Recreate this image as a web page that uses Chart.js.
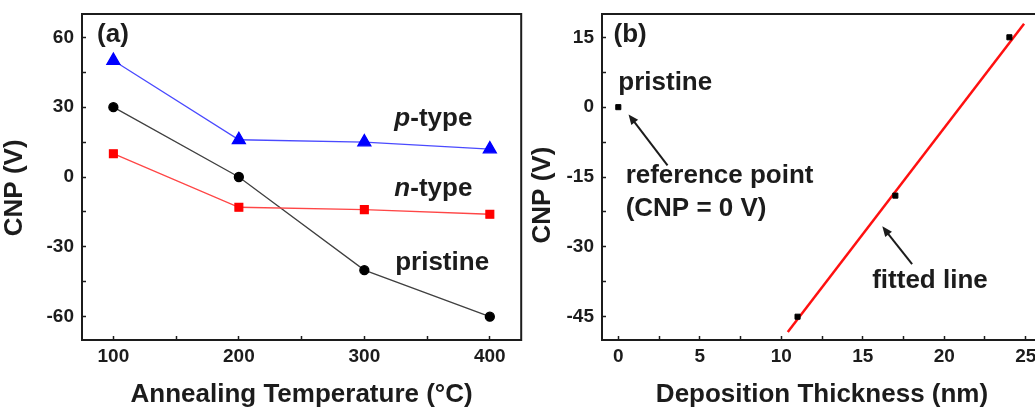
<!DOCTYPE html>
<html>
<head>
<meta charset="utf-8">
<script src="https://cdn.jsdelivr.net/npm/chart.js@4.4.1/dist/chart.umd.min.js"></script>
<style>
  html, body { margin: 0; padding: 0; background: #fff; overflow: hidden; }
  #wrap { position: relative; width: 1035px; height: 408px; overflow: hidden; }
  canvas { position: absolute; top: 0; }
  #chartA { left: 0; }
  #chartB { left: 530px; }
</style>
</head>
<body>
<div id="wrap">
  <canvas id="chartA" width="530" height="408"></canvas>
  <canvas id="chartB" width="530" height="408"></canvas>
</div>
<script>
// panel (a): CNP vs annealing temperature
const temps = [100, 200, 300, 400]
const pTypeCNP = [50, 16, 15, 12]
const nTypeCNP = [10, -13, -14, -16]
const pristineCNP = [30, 0, -40, -60]
const tempTicks = [100, 200, 300, 400]
const tempMinor = [150, 250, 350]
const cnpTicksA = [-60, -30, 0, 30, 60]
const cnpMinorA = [-45, -15, 15, 45]

// panel (b): CNP vs deposition thickness
const thickness = [0, 11, 17, 24]
const cnpB = [0, -45, -19, 15]
const fitThickness = [10.4, 24.9]
const fitCNP = [-48.3, 17.9]
const thickTicks = [0, 5, 10, 15, 20, 25]
const thickMinor = [2.5, 7.5, 12.5, 17.5, 22.5]
const cnpTicksB = [-45, -30, -15, 0, 15]
const cnpMinorB = [-37.5, -22.5, -7.5, 7.5]

const INK = '#1c1c1c'
Chart.defaults.font.family = '"Liberation Sans", Arial, sans-serif'
Chart.defaults.font.weight = 'bold'

const pts = (xs, ys) => xs.map((x, i) => ({ x, y: ys[i] }))

function axis({ position, min, max, major, minor, title, size, titlePad, tickPad }) {
  return {
    type: 'linear',
    position,
    min,
    max,
    afterBuildTicks: s => {
      s.ticks = [...major, ...minor].sort((a, b) => a - b).map(v => ({ value: v }))
    },
    afterFit: s => {
      if (s.isHorizontal()) s.height = size
      else s.width = size
      // labels never touch the plot edges here, so no extra room for them
      s.paddingTop = s.paddingBottom = s.paddingLeft = s.paddingRight = 0
    },
    grid: { drawOnChartArea: false, tickLength: -4, tickColor: INK, tickWidth: 1.5 },
    border: { color: INK, width: 2 },
    ticks: {
      autoSkip: false,
      maxRotation: 0,
      padding: tickPad,
      color: INK,
      font: { size: 19, weight: 'bold' },
      callback: v => major.includes(v) ? String(v) : ''
    },
    title: {
      display: true,
      text: title,
      color: INK,
      font: { size: 26, weight: 'bold', lineHeight: 1 },
      padding: titlePad
    }
  }
}

// frame around the plot box, text notes and arrows placed in data space
function notesPlugin(labels, arrows) {
  return {
    id: 'notes',
    afterDraw(chart) {
      const { ctx, chartArea: a, scales: { x, y } } = chart
      ctx.save()
      ctx.strokeStyle = INK
      ctx.lineWidth = 2
      ctx.strokeRect(a.left, a.top, a.right - a.left, a.bottom - a.top)

      ctx.fillStyle = INK
      ctx.textBaseline = 'middle'
      labels.forEach(n => {
        const parts = n.parts || [[n.text, 'bold']]
        const fonts = parts.map(p => `${p[1]} 26px "Liberation Sans", Arial, sans-serif`)
        let total = 0
        parts.forEach((p, i) => { ctx.font = fonts[i]; total += ctx.measureText(p[0]).width })
        let px = x.getPixelForValue(n.x)
        if (n.align === 'center') px -= total / 2
        const py = y.getPixelForValue(n.y)
        ctx.textAlign = 'left'
        parts.forEach((p, i) => {
          ctx.font = fonts[i]
          ctx.fillText(p[0], px, py)
          px += ctx.measureText(p[0]).width
        })
      })

      arrows.forEach(ar => {
        const x1 = x.getPixelForValue(ar[0]), y1 = y.getPixelForValue(ar[1])
        const x2 = x.getPixelForValue(ar[2]), y2 = y.getPixelForValue(ar[3])
        const ang = Math.atan2(y2 - y1, x2 - x1)
        const head = 11
        ctx.lineWidth = 2
        ctx.beginPath()
        ctx.moveTo(x1, y1)
        ctx.lineTo(x2 - Math.cos(ang) * head * 0.8, y2 - Math.sin(ang) * head * 0.8)
        ctx.stroke()
        ctx.beginPath()
        ctx.moveTo(x2, y2)
        ctx.lineTo(x2 - head * Math.cos(ang - 0.4), y2 - head * Math.sin(ang - 0.4))
        ctx.lineTo(x2 - head * Math.cos(ang + 0.4), y2 - head * Math.sin(ang + 0.4))
        ctx.closePath()
        ctx.fill()
      })
      ctx.restore()
    }
  }
}

const baseOptions = {
  responsive: false,
  animation: false,
  devicePixelRatio: 1,
  plugins: { legend: { display: false }, tooltip: { enabled: false } }
}

// panel (a)
new Chart(document.getElementById('chartA'), {
  type: 'line',
  data: {
    datasets: [
      {
        data: pts(temps, pTypeCNP),
        borderColor: '#4a4aff', borderWidth: 1.3,
        pointStyle: 'triangle', pointRadius: 7.5,
        pointBackgroundColor: '#0000ff', pointBorderColor: '#0000ff'
      },
      {
        data: pts(temps, nTypeCNP),
        borderColor: '#ff4646', borderWidth: 1.3,
        pointStyle: 'rect', pointRadius: 5.5,
        pointBackgroundColor: '#ff0000', pointBorderColor: '#ff0000'
      },
      {
        data: pts(temps, pristineCNP),
        borderColor: '#404040', borderWidth: 1.3,
        pointStyle: 'circle', pointRadius: 4.5,
        pointBackgroundColor: '#000', pointBorderColor: '#000'
      }
    ]
  },
  options: {
    ...baseOptions,
    layout: { padding: { top: 14, right: 7, left: 0, bottom: 0 } },
    scales: {
      x: axis({ position: 'bottom', min: 75, max: 425, major: tempTicks, minor: tempMinor,
        title: 'Annealing Temperature (°C)', size: 68, titlePad: 0, tickPad: 9 }),
      // trailing spaces nudge the rotated title a little below centre, as in the original
      y: axis({ position: 'left', min: -70, max: 70, major: cnpTicksA, minor: cnpMinorA,
        title: 'CNP (V)   ', size: 82, titlePad: { top: 2 }, tickPad: 12 })
    }
  },
  plugins: [notesPlugin([
    { x: 87, y: 61, text: '(a)' },
    { x: 355, y: 25, align: 'center', parts: [['p', 'italic bold'], ['-type', 'bold']] },
    { x: 355, y: -5, align: 'center', parts: [['n', 'italic bold'], ['-type', 'bold']] },
    { x: 362, y: -37, align: 'center', text: 'pristine' }
  ], [])]
})

// panel (b)
new Chart(document.getElementById('chartB'), {
  type: 'scatter',
  data: {
    datasets: [
      {
        data: pts(thickness, cnpB),
        showLine: false,
        pointStyle: 'rect', pointRadius: 3.6,
        pointBackgroundColor: '#000', pointBorderColor: '#000'
      },
      {
        data: pts(fitThickness, fitCNP),
        showLine: true,
        borderColor: '#ff1010', borderWidth: 2.5,
        pointRadius: 0
      }
    ]
  },
  options: {
    ...baseOptions,
    layout: { padding: { top: 14, right: 18, left: 0, bottom: 0 } },
    scales: {
      x: axis({ position: 'bottom', min: -1, max: 26, major: thickTicks, minor: thickMinor,
        title: 'Deposition Thickness (nm)', size: 68, titlePad: 0, tickPad: 9 }),
      y: axis({ position: 'left', min: -50, max: 20, major: cnpTicksB, minor: cnpMinorB,
        title: 'CNP (V)     ', size: 72, titlePad: 0, tickPad: 12 })
    }
  },
  plugins: [notesPlugin([
    { x: -0.29, y: 15.6, text: '(b)' },
    { x: 0.0, y: 5.3, text: 'pristine' },
    { x: 0.45, y: -14.85, text: 'reference point' },
    { x: 0.45, y: -21.9, text: '(CNP = 0 V)' },
    { x: 15.58, y: -37.35, text: 'fitted line' }
  ], [
    [3.02, -12.5, 0.63, -1.56],
    [18.03, -33.7, 16.2, -25.6]
  ])]
})
</script>
</body>
</html>
